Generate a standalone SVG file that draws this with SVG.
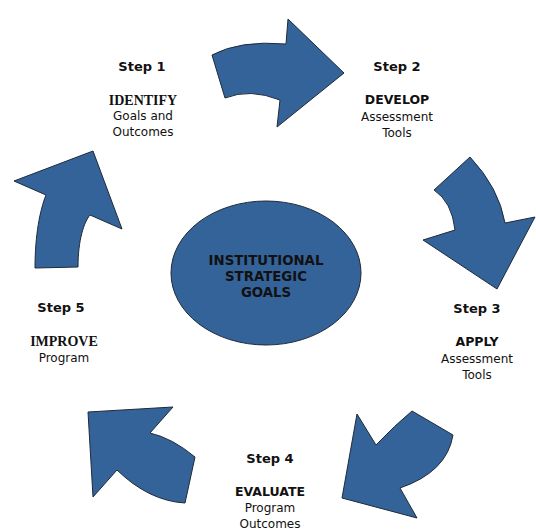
<svg xmlns="http://www.w3.org/2000/svg" width="536" height="532" viewBox="0 0 536 532">
<style>
.arrow{fill:#34639a;stroke:#1e2a38;stroke-width:1;stroke-linejoin:miter}
.core{fill:#34639a;stroke:#1e2a38;stroke-width:1}
text{font-family:"DejaVu Sans",Verdana,sans-serif;text-anchor:middle;fill:#111}
.step{font-weight:bold;font-size:13px}
.head{font-weight:bold;font-size:12.5px}
.serif{font-family:"Liberation Serif","Times New Roman",serif;font-weight:bold;font-size:14px}
.body{font-size:12px}
.goal{font-weight:bold;font-size:13.3px}
</style>
<rect width="536" height="532" fill="#ffffff"/>
<g id="connectors">
<path class="arrow" d="M212,55 Q240,40 286,44 L288,19 L344,73 L277,127 L280,100 Q250,88 225,98 Z"/>
<path class="arrow" d="M470,157 Q499,188 505,223 L535,217 L497,289 L423,240 L455,230 Q452,202 434,190 Z"/>
<path class="arrow" d="M412,411 L453,435 Q447,472 400,488 L417,518 L342,498 L357,414 L376,445 Q395,425 412,411 Z"/>
<path class="arrow" d="M88,412 L173,407 L150,433 Q172,438 195,457 L185,503 Q149,501 117,470 L93,497 Z"/>
<path class="arrow" d="M93,151 L122,229 L90,215 C84,222 78,240 78,267 L35,268 C35,235 40,210 46,195 L14,181 Z"/>
</g>
<g id="center">
<ellipse class="core" cx="266" cy="273" rx="95" ry="72"/>
<text class="goal" x="266" y="265">INSTITUTIONAL</text>
<text class="goal" x="266" y="281">STRATEGIC</text>
<text class="goal" x="266" y="297">GOALS</text>
</g>
<g id="step1">
<text class="step" x="142" y="71">Step 1</text>
<text class="serif" x="143" y="105">IDENTIFY</text>
<text class="body" x="143" y="120">Goals and</text>
<text class="body" x="143" y="136">Outcomes</text>
</g>
<g id="step2">
<text class="step" x="397" y="71">Step 2</text>
<text class="head" x="397" y="104">DEVELOP</text>
<text class="body" x="397" y="121">Assessment</text>
<text class="body" x="397" y="137">Tools</text>
</g>
<g id="step3">
<text class="step" x="477" y="313">Step 3</text>
<text class="head" x="477" y="346">APPLY</text>
<text class="body" x="477" y="363">Assessment</text>
<text class="body" x="477" y="379">Tools</text>
</g>
<g id="step4">
<text class="step" x="270" y="463">Step 4</text>
<text class="head" x="270" y="496">EVALUATE</text>
<text class="body" x="270" y="512">Program</text>
<text class="body" x="270" y="528">Outcomes</text>
</g>
<g id="step5">
<text class="step" x="61" y="312">Step 5</text>
<text class="serif" x="64" y="346">IMPROVE</text>
<text class="body" x="64" y="362">Program</text>
</g>
</svg>
